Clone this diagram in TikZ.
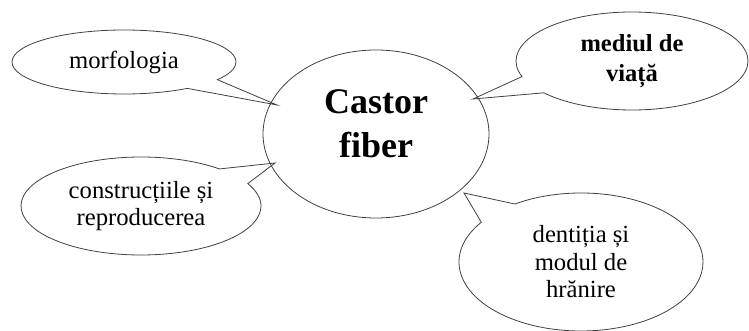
\documentclass[tikz,border=0pt]{standalone}
\usepackage{fontspec}
\setmainfont{Liberation Serif}
\usetikzlibrary{shapes.geometric}
\usetikzlibrary{shapes.callouts}
\usetikzlibrary{calc}

\begin{document}
\begin{tikzpicture}[x=0.75pt,y=-0.75pt]
\tikzstyle{bubble} = [ellipse callout,draw=black!75,line width=0.6pt,inner sep=0pt,
  align=center,callout pointer arc=22,font=\fontsize{18.5}{20.6}\selectfont]
\useasboundingbox (0,0) rectangle (749,331);
% central oval
\node[ellipse,draw=black!75,line width=0.6pt,minimum width=169.5pt,
  minimum height=126pt] (castor) at (376,134) {};
\node[align=center,font=\bfseries\fontsize{27}{33}\selectfont] (title)
  at ($(castor)+(0,-10)$) {Castor\\fiber};
% callouts
\node[bubble,minimum width=168pt,minimum height=48pt,
  callout absolute pointer={($(castor)+(-99,-29)$)}] (morf) at (124,62) {morfologia};
\node[bubble,font=\bfseries\fontsize{18.4}{22}\selectfont,minimum width=174pt,
  minimum height=73.5pt,callout absolute pointer={($(castor)+(97,-35)$)}] (mediu)
  at (632,61) {mediul de\\viață};
\node[bubble,minimum width=180pt,minimum height=73.5pt,
  callout absolute pointer={($(castor)+(-101,29)$)}] (constr)
  at (141,206) {construcțiile și\\reproducerea};
\node[bubble,minimum width=183pt,minimum height=103.5pt,
  callout absolute pointer={($(castor)+(88,59)$)}] (dent)
  at (581,262) {dentiția și\\modul de\\hrănire};
\end{tikzpicture}
\end{document}
